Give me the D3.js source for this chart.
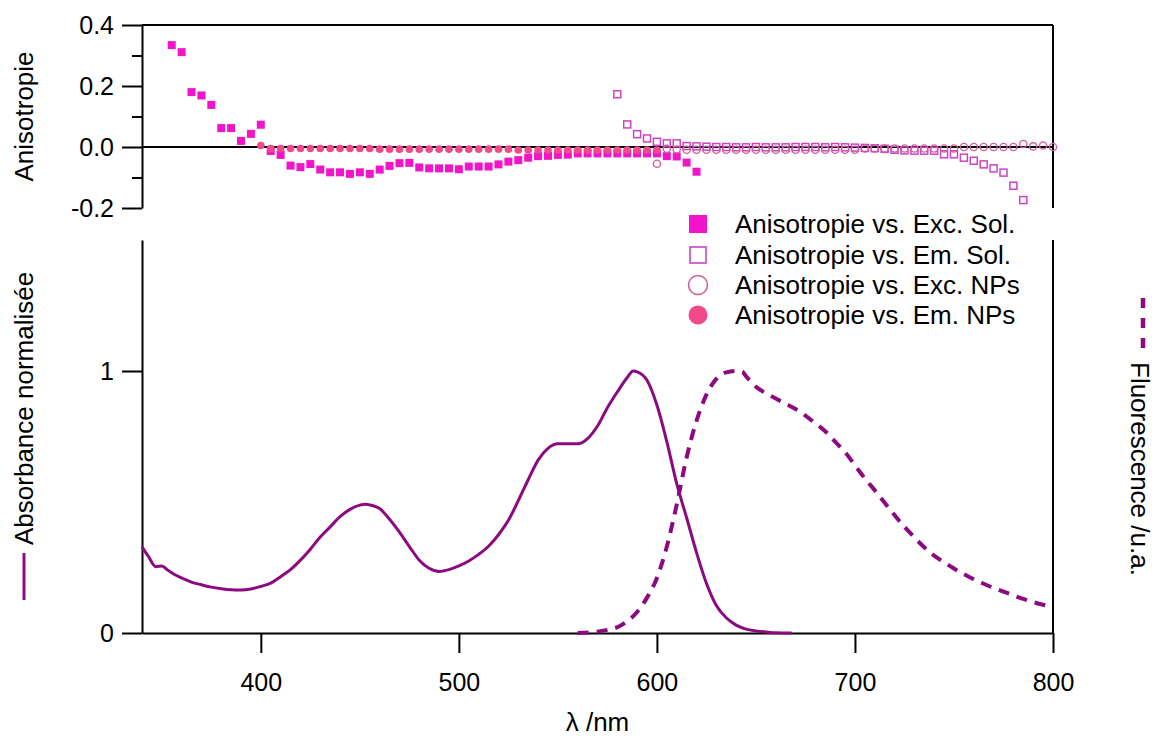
<!DOCTYPE html>
<html><head><meta charset="utf-8">
<script src="https://cdn.jsdelivr.net/npm/d3@7"></script>
<style>
html,body{margin:0;padding:0;background:#fff;}
svg{display:block;}
text{font-family:"Liberation Sans",Arial,sans-serif;fill:#000;}
</style></head>
<body>
<svg id="c" width="1156" height="736"></svg>
<script>
// ---- Data ----
const absWl = [340,343,347,350,353,356,360,365,370,375,380,385,390,395,400,405,410,415,420,425,430,435,440,445,450,453,455,460,465,470,475,480,485,490,495,500,505,510,515,520,525,530,535,540,545,550,555,560,565,570,575,580,585,588,590,595,600,605,610,615,620,625,630,635,640,645,650,655,660,668];
const absVal = [0.329,0.295,0.253,0.256,0.24,0.225,0.21,0.194,0.184,0.175,0.169,0.165,0.164,0.168,0.178,0.19,0.215,0.242,0.278,0.32,0.366,0.405,0.444,0.472,0.488,0.491,0.489,0.475,0.434,0.385,0.33,0.278,0.247,0.235,0.242,0.256,0.275,0.3,0.331,0.375,0.43,0.505,0.585,0.66,0.705,0.722,0.722,0.722,0.742,0.79,0.86,0.92,0.975,1.0,0.997,0.965,0.87,0.73,0.57,0.44,0.307,0.19,0.105,0.058,0.03,0.015,0.008,0.004,0.001,0.0];

const fluoWl = [560,570,575,580,585,590,595,600,605,610,615,620,625,630,635,640,643,645,650,655,660,665,670,675,680,685,690,695,700,705,710,715,720,725,730,735,740,745,750,755,760,765,770,775,780,785,790,795,800];
const fluoVal = [0.0,0.005,0.012,0.022,0.045,0.08,0.135,0.21,0.33,0.49,0.67,0.81,0.91,0.97,0.995,1.0,0.998,0.98,0.94,0.915,0.895,0.875,0.855,0.83,0.8,0.77,0.73,0.69,0.64,0.59,0.545,0.497,0.45,0.405,0.365,0.327,0.295,0.27,0.246,0.225,0.205,0.188,0.172,0.158,0.144,0.13,0.118,0.108,0.1];

const excSolWl = [355,360,365,370,375,380,385,390,395,400,405,410,415,420,425,430,435,440,445,450,455,460,465,470,475,480,485,490,495,500,505,510,515,520,525,530,535,540,545,550,555,560,565,570,575,580,585,590,595,600,605,610,615,620];
const excSolVal = [0.334,0.311,0.18,0.169,0.138,0.062,0.062,0.02,0.043,0.073,-0.013,-0.026,-0.061,-0.066,-0.056,-0.074,-0.083,-0.083,-0.088,-0.083,-0.088,-0.074,-0.062,-0.053,-0.052,-0.067,-0.07,-0.07,-0.07,-0.073,-0.064,-0.064,-0.064,-0.057,-0.048,-0.043,-0.035,-0.03,-0.029,-0.026,-0.025,-0.021,-0.021,-0.021,-0.021,-0.021,-0.021,-0.021,-0.021,-0.021,-0.03,-0.031,-0.051,-0.081];

const emSolWl = [580,585,590,595,600,605,610,615,620,625,630,635,640,645,650,655,660,665,670,675,680,685,690,695,700,705,710,715,720,725,730,735,740,745,750,755,760,765,770,775,780,785];
const emSolVal = [0.173,0.074,0.042,0.028,0.017,0.012,0.012,0.003,0.002,0.001,0,0,-0.001,-0.001,0,-0.001,-0.001,-0.001,0,0,0,-0.001,0,-0.001,-0.002,-0.003,-0.004,-0.006,-0.009,-0.011,-0.012,-0.012,-0.012,-0.024,-0.024,-0.035,-0.045,-0.057,-0.07,-0.084,-0.127,-0.174];

const excNPsWl = [600,605,610,615,620,625,630,635,640,645,650,655,660,665,670,675,680,685,690,695,700,705,710,715,720,725,730,735,740,745,750,755,760,765,770,775,780,785,790,795,800];
const excNPsVal = [-0.055,-0.006,-0.008,-0.009,-0.009,-0.009,-0.009,-0.009,-0.009,-0.009,-0.009,-0.009,-0.009,-0.009,-0.009,-0.009,-0.009,-0.009,-0.009,-0.009,-0.009,-0.005,-0.005,-0.005,-0.005,-0.005,-0.005,-0.005,-0.005,-0.005,-0.005,0,0,0,0,0,0,0.01,0.002,0.005,0.0];

const emNPsWl = [400,405,410,415,420,425,430,435,440,445,450,455,460,465,470,475,480,485,490,495,500,505,510,515,520,525,530,535,540,545,550,555,560,565,570,575,580,585,590,595,600];
const emNPsVal = [0.005,-0.005,-0.005,-0.005,-0.005,-0.005,-0.005,-0.005,-0.005,-0.005,-0.005,-0.005,-0.007,-0.007,-0.007,-0.007,-0.007,-0.007,-0.007,-0.007,-0.007,-0.007,-0.007,-0.007,-0.007,-0.007,-0.01,-0.01,-0.01,-0.01,-0.01,-0.01,-0.01,-0.01,-0.01,-0.01,-0.01,-0.01,-0.01,-0.01,-0.01];

const xTicks = [400,500,600,700,800];
const topMajor = [-0.2,0.0,0.2,0.4];
const topMinor = [-0.1,0.1,0.3];
const botTicks = [0,1];
const legendLabels = ["Anisotropie vs. Exc. Sol.","Anisotropie vs. Em. Sol.","Anisotropie vs. Exc. NPs","Anisotropie vs. Em. NPs"];

// ---- Layout ----
const svg = d3.select("#c");
const L = 142, R = 1053;
const x = d3.scaleLinear().domain([340,800]).range([L,R]);
const yT = d3.scaleLinear().domain([-0.2,0.4]).range([208,25]);
const yB = d3.scaleLinear().domain([0,1.5]).range([633,240]);

const purple = "#8c0a80";
const cFillSq = "#f214c8", cOpenSq = "#cc44c4", cOpenCi = "#d0609e", cFillCi = "#f04a8a";
const zip = (a,b)=>a.map((v,i)=>[v,b[i]]);

function styleAxis(g, fs){
  g.selectAll("path,line").attr("stroke","#000").attr("stroke-width",2);
  g.selectAll("text").attr("font-size",fs).attr("fill","#000").style("font-family","'Liberation Sans',Arial,sans-serif");
}

// ---- Top panel ----
const gTop = svg.append("g");
gTop.append("g").attr("transform",`translate(${L},0)`)
  .call(d3.axisLeft(yT).tickValues(topMajor).tickSize(20).tickSizeOuter(0).tickPadding(8).tickFormat(d=>d.toFixed(1)))
  .call(g=>styleAxis(g,25));
gTop.append("g").attr("transform",`translate(${L},0)`)
  .call(d3.axisLeft(yT).tickValues(topMinor).tickSize(10).tickSizeOuter(0).tickFormat(""))
  .call(g=>{styleAxis(g,25); g.select(".domain").remove();});
gTop.append("line").attr("x1",L).attr("x2",R).attr("y1",yT(0.4)).attr("y2",yT(0.4)).attr("stroke","#000").attr("stroke-width",2);
gTop.append("line").attr("x1",R).attr("x2",R).attr("y1",yT(0.4)).attr("y2",yT(-0.2)).attr("stroke","#000").attr("stroke-width",2);
gTop.append("line").attr("x1",L).attr("x2",R).attr("y1",yT(0)).attr("y2",yT(0)).attr("stroke","#000").attr("stroke-width",2);

const s = 8;
gTop.append("g").selectAll("rect").data(zip(excSolWl,excSolVal)).join("rect")
  .attr("x",d=>x(d[0])-s/2).attr("y",d=>yT(d[1])-s/2).attr("width",s).attr("height",s).attr("fill",cFillSq);
gTop.append("g").selectAll("rect").data(zip(emSolWl,emSolVal)).join("rect")
  .attr("x",d=>x(d[0])-3.5).attr("y",d=>yT(d[1])-3.5).attr("width",7).attr("height",7)
  .attr("fill","none").attr("stroke",cOpenSq).attr("stroke-width",1.5);
gTop.append("g").selectAll("circle").data(zip(excNPsWl,excNPsVal)).join("circle")
  .attr("cx",d=>x(d[0])).attr("cy",d=>yT(d[1])).attr("r",3.6)
  .attr("fill","none").attr("stroke",cOpenCi).attr("stroke-width",1.4);
gTop.append("g").selectAll("circle").data(zip(emNPsWl,emNPsVal)).join("circle")
  .attr("cx",d=>x(d[0])).attr("cy",d=>yT(d[1])).attr("r",3.8).attr("fill",cFillCi);

gTop.append("text").attr("transform",`translate(33,${(yT(0.4)+yT(-0.2))/2}) rotate(-90)`)
  .attr("text-anchor","middle").attr("font-size",26).text("Anisotropie");

// ---- Bottom panel ----
const gB = svg.append("g");
gB.append("g").attr("transform",`translate(0,${yB(0)})`)
  .call(d3.axisBottom(x).tickValues(xTicks).tickSize(20).tickSizeOuter(0).tickPadding(20).tickFormat(d3.format("d")))
  .call(g=>styleAxis(g,25));
gB.append("g").attr("transform",`translate(${L},0)`)
  .call(d3.axisLeft(yB).tickValues(botTicks).tickSize(20).tickSizeOuter(0).tickPadding(8).tickFormat(d3.format("d")))
  .call(g=>styleAxis(g,25));
gB.append("line").attr("x1",R).attr("x2",R).attr("y1",yB(1.5)).attr("y2",yB(0)).attr("stroke","#000").attr("stroke-width",2);

const line = d3.line().x(d=>x(d[0])).y(d=>yB(d[1])).curve(d3.curveMonotoneX);
gB.append("path").datum(zip(absWl,absVal)).attr("d",line)
  .attr("fill","none").attr("stroke",purple).attr("stroke-width",3);
gB.append("path").datum(zip(fluoWl,fluoVal)).attr("d",line)
  .attr("fill","none").attr("stroke",purple).attr("stroke-width",4).attr("stroke-dasharray","11,8");

gB.append("text").attr("x",(L+R)/2).attr("y",731).attr("text-anchor","middle").attr("font-size",26).text("λ /nm");

gB.append("text").attr("transform",`translate(33,545) rotate(-90)`)
  .attr("text-anchor","start").attr("font-size",26).text("Absorbance normalisée");
gB.append("line").attr("x1",24).attr("x2",24).attr("y1",553).attr("y2",600).attr("stroke",purple).attr("stroke-width",3);

gB.append("line").attr("x1",1143).attr("x2",1143).attr("y1",298).attr("y2",349)
  .attr("stroke",purple).attr("stroke-width",4.5).attr("stroke-dasharray","10,10");
gB.append("text").attr("transform",`translate(1131,362) rotate(90)`)
  .attr("text-anchor","start").attr("font-size",26).text("Fluorescence /u.a.");

// ---- Legend ----
const lg = svg.append("g");
const rowsY = [224,255,285,315];
lg.append("rect").attr("x",683).attr("y",209).attr("width",345).attr("height",124).attr("fill","#fff");
lg.append("rect").attr("x",689).attr("y",rowsY[0]-9).attr("width",18).attr("height",18).attr("fill",cFillSq);
lg.append("rect").attr("x",690).attr("y",rowsY[1]-8).attr("width",16).attr("height",16).attr("fill","none").attr("stroke",cOpenSq).attr("stroke-width",1.6);
lg.append("circle").attr("cx",698).attr("cy",rowsY[2]).attr("r",9.5).attr("fill","none").attr("stroke",cOpenCi).attr("stroke-width",1.6);
lg.append("circle").attr("cx",698).attr("cy",rowsY[3]).attr("r",9.5).attr("fill",cFillCi);
lg.selectAll("text.lt").data(legendLabels).join("text").attr("class","lt")
  .attr("x",735).attr("y",(d,i)=>rowsY[i]+9).attr("font-size",26).text(d=>d);
</script>
</body></html>
